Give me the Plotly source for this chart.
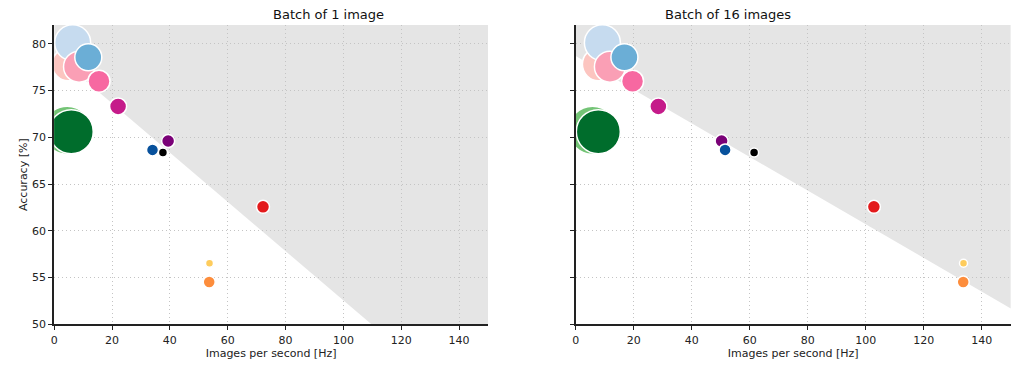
import plotly.graph_objects as go

# ---- data ----
colors = ["#74c476", "#006d2c", "#fcc5c0", "#c6dbef", "#fa9fb5", "#6baed6",
          "#f768a1", "#c51b8a", "#7a0177", "#08519c", "#000000", "#e31a1c",
          "#fecc5c", "#fd8d3c"]
accuracy = [70.75, 70.6, 77.8, 80.1, 77.55, 78.55, 76.0, 73.3, 69.6, 68.65,
            68.37, 62.56, 56.53, 54.53]
ips_batch1 = [4.5, 5.9, 5.0, 6.4, 8.6, 11.8, 15.5, 22.1, 39.4, 34.0, 37.6,
              72.2, 53.7, 53.6]
ips_batch16 = [5.8, 7.8, 8.0, 9.2, 11.8, 16.8, 19.6, 28.5, 50.3, 51.5, 61.5,
               102.8, 133.7, 133.6]
bubble_size = [48, 44, 33, 36, 31, 27, 22, 17, 13, 12, 9, 13, 8, 12]

# shaded "better" region boundary (x, y) for each panel
shade1_x = [0, 109.7, 150, 150, 0]
shade1_y = [78.9, 50, 50, 82, 82]
shade16_x = [0, 150, 150, 0]
shade16_y = [78.7, 51.7, 82, 82]

titles = ["Batch of 1 image", "Batch of 16 images"]
x_ticks = [0, 20, 40, 60, 80, 100, 120, 140]
y_ticks = [50, 55, 60, 65, 70, 75, 80]

FONT = "DejaVu Sans"
fig = go.Figure()

for i, (xs, sx, sy) in enumerate([(ips_batch1, shade1_x, shade1_y),
                                  (ips_batch16, shade16_x, shade16_y)]):
    xa = "x" if i == 0 else "x2"
    ya = "y" if i == 0 else "y2"
    path = "M " + " L ".join(f"{a},{b}" for a, b in zip(sx, sy)) + " Z"
    fig.add_shape(type="path", path=path, xref=xa, yref=ya,
                  fillcolor="#e5e5e5", line=dict(width=0), layer="below")
    for c, xv, yv, s in zip(colors, xs, accuracy, bubble_size):
        fig.add_trace(go.Scatter(
            x=[xv], y=[yv], mode="markers", xaxis=xa, yaxis=ya,
            marker=dict(size=s, color=c, line=dict(color="white", width=1.5)),
            showlegend=False, cliponaxis=True, hoverinfo="skip"))

axis_common = dict(showgrid=True, gridcolor="#c4c4c4", griddash="1px,3px",
                   gridwidth=1, showline=True, linecolor="#222", linewidth=2,
                   ticks="outside", ticklen=4, tickcolor="#222", zeroline=False,
                   automargin=False,
                   tickfont=dict(family=FONT, size=11, color="#222"))

fig.update_layout(
    width=1024, height=368, margin=dict(l=0, r=0, t=0, b=0),
    plot_bgcolor="white", paper_bgcolor="white",
    font=dict(family=FONT, color="#222"),
    xaxis=dict(domain=[0.0529, 0.4766], range=[0, 150], tickvals=x_ticks,
               title=dict(text="Images per second [Hz]", font=dict(size=11), standoff=4),
               anchor="y", **axis_common),
    yaxis=dict(domain=[0.1187, 0.932], range=[50, 82], tickvals=y_ticks,
               title=dict(text="Accuracy [%]", font=dict(size=11), standoff=2),
               anchor="x", **axis_common),
    xaxis2=dict(domain=[0.5622, 0.9871], range=[0, 150], tickvals=x_ticks,
                title=dict(text="Images per second [Hz]", font=dict(size=11), standoff=4),
                anchor="y2", **axis_common),
    yaxis2=dict(domain=[0.1187, 0.932], range=[50, 82], tickvals=y_ticks,
                showticklabels=False, anchor="x2", **axis_common),
)

for i, t in enumerate(titles):
    dom = fig.layout.xaxis.domain if i == 0 else fig.layout.xaxis2.domain
    fig.add_annotation(text=t, x=(dom[0] + dom[1]) / 2, y=0.96, xref="paper",
                       yref="paper", showarrow=False, yanchor="middle",
                       font=dict(family=FONT, size=13, color="#111"))

fig.write_html("out.html")
